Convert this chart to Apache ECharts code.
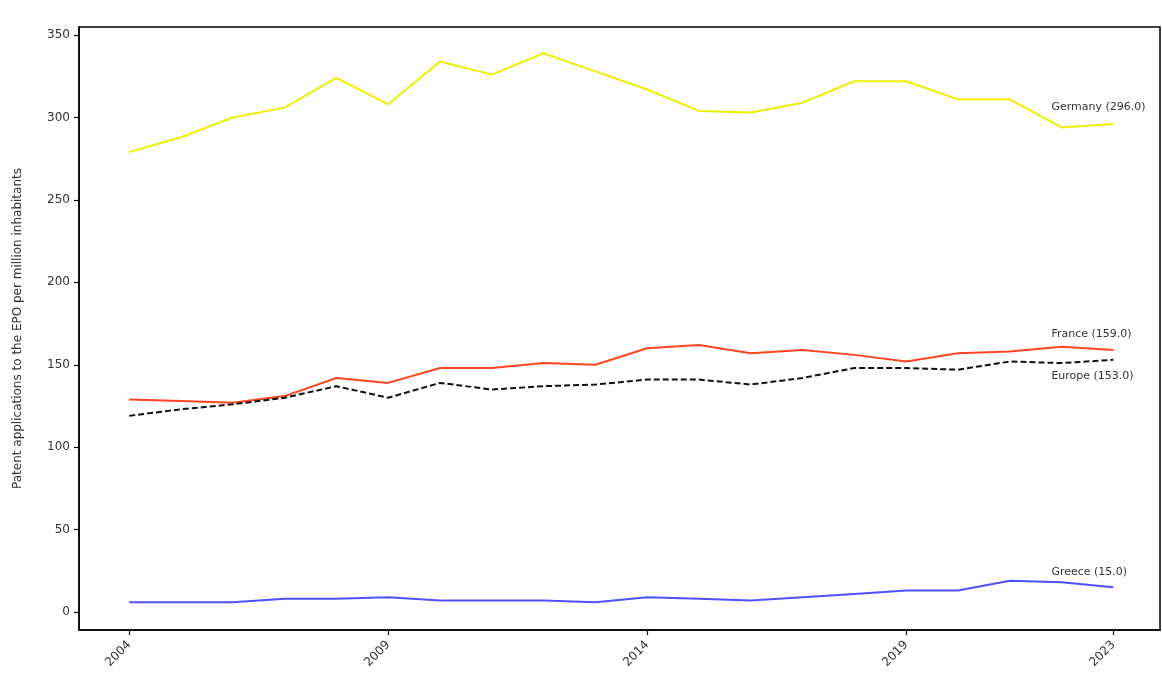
<!DOCTYPE html>
<html>
<head>
<meta charset="utf-8">
<script src="https://cdn.jsdelivr.net/npm/echarts@6/dist/echarts.min.js"></script>
<style>
  html, body { margin: 0; padding: 0; background: #fff; }
  #chart { width: 1162px; height: 677px; }
</style>
</head>
<body>
<div id="chart"></div>
<script>
// Patent applications to the EPO per million inhabitants, 2004-2023
const years = [2004, 2005, 2006, 2007, 2008, 2009, 2010, 2011, 2012, 2013,
               2014, 2015, 2016, 2017, 2018, 2019, 2020, 2021, 2022, 2023];
const germany = [279, 288, 300, 306, 324, 308, 334, 326, 339, 328,
                 317, 304, 303, 309, 322, 322, 311, 311, 294, 296];
const france  = [129, 128, 127, 131, 142, 139, 148, 148, 151, 150,
                 160, 162, 157, 159, 156, 152, 157, 158, 161, 159];
const europe  = [119, 123, 126, 130, 137, 130, 139, 135, 137, 138,
                 141, 141, 138, 142, 148, 148, 147, 152, 151, 153];
const greece  = [6, 6, 6, 8, 8, 9, 7, 7, 7, 6,
                 9, 8, 7, 9, 11, 13, 13, 19, 18, 15];

const xTicks = [2004, 2009, 2014, 2019, 2023];
const yTicks = [0, 50, 100, 150, 200, 250, 300, 350];

const pairs = vals => years.map((y, i) => [y, vals[i]]);
const endLabelFmt = p => p.seriesName + ' (' + p.value[1].toFixed(1) + ')';

function makeSeries(name, vals, color, dy, dashed) {
  return {
    name: name,
    type: 'line',
    data: pairs(vals),
    showSymbol: false,
    symbol: 'none',
    silent: true,
    lineStyle: { color: color, width: 2, type: dashed ? [6, 3] : 'solid' },
    endLabel: {
      show: true,
      formatter: endLabelFmt,
      offset: [-70, dy],
      color: '#333',
      fontSize: 11,
      fontFamily: 'DejaVu Sans'
    },
    z: dashed ? 3 : 2
  };
}

const chart = echarts.init(document.getElementById('chart'), null, { renderer: 'canvas' });
chart.setOption({
  animation: false,
  backgroundColor: '#fff',
  grid: {
    left: 79, top: 27, right: 2, bottom: 47,
    show: true, borderColor: '#000', borderWidth: 1.5,
    backgroundColor: 'transparent'
  },
  xAxis: {
    type: 'value',
    min: 2003.03,
    max: 2023.9,
    axisLine: { show: true, onZero: false, lineStyle: { color: '#000', width: 1.5 } },
    axisTick: { show: true, length: 5, lineStyle: { color: '#000', width: 1.2 }, customValues: xTicks },
    axisLabel: {
      customValues: xTicks,
      rotate: 45,
      margin: 13,
      color: '#333',
      fontSize: 12,
      fontFamily: 'DejaVu Sans',
      formatter: v => String(v)
    },
    splitLine: { show: false }
  },
  yAxis: {
    type: 'value',
    min: -10.9,
    max: 354.9,
    name: 'Patent applications to the EPO per million inhabitants',
    nameLocation: 'middle',
    nameGap: 55,
    nameTextStyle: { color: '#333', fontSize: 12, fontFamily: 'DejaVu Sans' },
    axisLine: { show: true, onZero: false, lineStyle: { color: '#000', width: 1.5 } },
    axisTick: { show: true, length: 5, lineStyle: { color: '#000', width: 1.2 }, customValues: yTicks },
    axisLabel: {
      customValues: yTicks,
      margin: 9,
      color: '#333',
      fontSize: 12,
      fontFamily: 'DejaVu Sans'
    },
    splitLine: { show: false }
  },
  series: [
    makeSeries('Germany', germany, '#eeee00', -17, false),
    makeSeries('France', france, '#ff4422', -16, false),
    makeSeries('Europe', europe, '#111', 16, true),
    makeSeries('Greece', greece, '#5050ff', -15, false)
  ]
});
</script>
</body>
</html>
